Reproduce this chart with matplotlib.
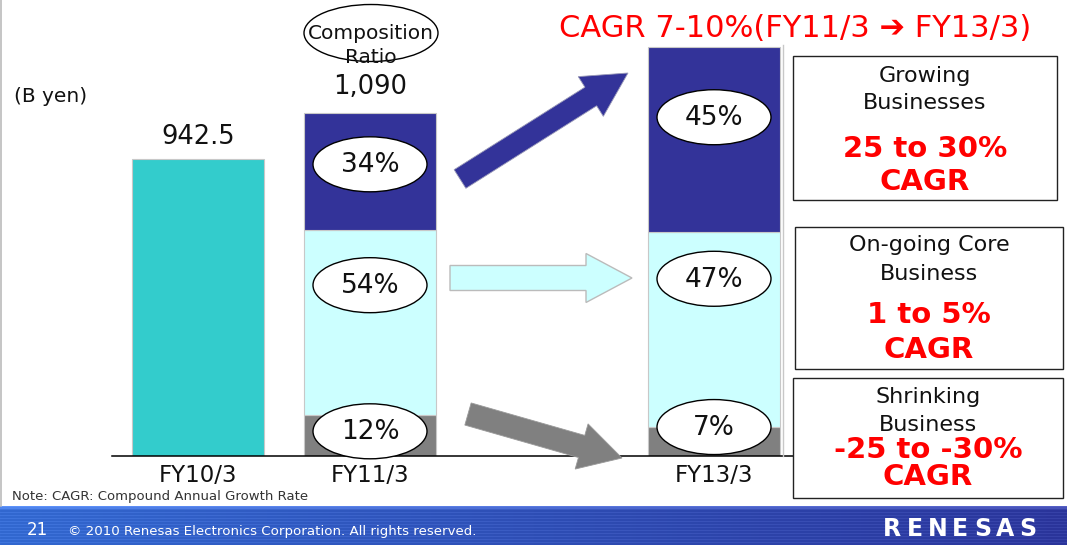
import matplotlib
matplotlib.use("Agg")
import matplotlib.pyplot as plt
import numpy as np
from matplotlib.patches import Ellipse, Rectangle, FancyArrow

# ---------------- data ----------------
categories = ["FY10/3", "FY11/3", "FY13/3"]
x_pos = [0, 1, 3]
total_fy10 = 942.5
# stacked segments (B yen), bottom to top, for FY11/3 and FY13/3
shrinking = [130.8, 92.0]
ongoing = [588.6, 620.0]
growing = [370.6, 588.0]
share_fy11 = ["12%", "54%", "34%"]
share_fy13 = ["7%", "47%", "45%"]
total_labels = ["942.5", "1,090"]

# ---------------- style ----------------
TEAL = "#33CCCC"
DARK = "#333399"
LIGHT = "#CCFFFF"
GREY = "#808080"
RED = "#FF0000"
EDGE = "#C8C8C8"

W, H = 1067, 545
fig = plt.figure(figsize=(W / 100, H / 100), dpi=100)
fig.patch.set_facecolor("white")

# bar axes placed in pixel geometry
ax = fig.add_axes([112 / W, (H - 456) / H, 688 / W, 416 / H])
ax.set_xlim(-0.5, 3.5)
ax.set_ylim(0, 1322)
ax.patch.set_alpha(0)
for s in ["top", "right", "left"]:
    ax.spines[s].set_visible(False)
ax.spines["bottom"].set_color("black")
ax.spines["bottom"].set_linewidth(1.1)
ax.set_yticks([])
ax.set_xticks(x_pos)
ax.set_xticklabels(categories, fontsize=16.5, color="#111111")
ax.tick_params(axis="x", length=0, pad=6)

bw = 0.773
ax.bar(x_pos[0], total_fy10, width=bw, color=TEAL, edgecolor=EDGE, linewidth=0.8)
sx = x_pos[1:]
ax.bar(sx, shrinking, width=bw, color=GREY, edgecolor=EDGE, linewidth=0.8)
b2 = np.array(shrinking)
ax.bar(sx, ongoing, width=bw, bottom=b2, color=LIGHT, edgecolor=EDGE, linewidth=0.8)
b3 = b2 + np.array(ongoing)
ax.bar(sx, growing, width=bw, bottom=b3, color=DARK, edgecolor=EDGE, linewidth=0.8)
tops = b3 + np.array(growing)

# total labels
ax.annotate(total_labels[0], (x_pos[0], total_fy10), xytext=(0, 11), textcoords="offset points",
            ha="center", va="baseline", fontsize=18.5, color="#111111")
ax.annotate(total_labels[1], (x_pos[1], tops[0]), xytext=(0, 13.5), textcoords="offset points",
            ha="center", va="baseline", fontsize=18.5, color="#111111")

# ---------------- overlay (pixel coordinates) ----------------
ov = fig.add_axes([0, 0, 1, 1], zorder=5)
ov.set_xlim(0, W)
ov.set_ylim(H, 0)
ov.axis("off")
ov.patch.set_alpha(0)


def to_px(x, y):
    d = ax.transData.transform((x, y))
    return d[0], H - d[1]


# share label ellipses (position as fraction within each segment)
fracs = [[0.6, 0.70, 0.56], [1.0, 0.76, 0.62]]
segs = [shrinking, ongoing, growing]
for i, (xp, labels) in enumerate(zip(sx, [share_fy11, share_fy13])):
    bottom = 0.0
    for j in range(3):
        h = segs[j][i]
        cx, cy = to_px(xp, bottom + fracs[i][j] * h)
        ov.add_patch(Ellipse((cx, cy), 114, 55, fc="white", ec="black", lw=1.0, zorder=6))
        ov.text(cx, cy + 1, labels[j], ha="center", va="center", fontsize=19, color="#111111", zorder=7)
        bottom += h

# composition ratio bubble
ov.add_patch(Ellipse((371, 33), 134, 57, fc="none", ec="black", lw=1.0))
ov.text(371, 39, "Composition", ha="center", va="baseline", fontsize=14.5, color="#111111")
ov.text(371, 63, "Ratio", ha="center", va="baseline", fontsize=14.5, color="#111111")

# unit
ov.text(14, 102, "(B yen)", ha="left", va="baseline", fontsize=14.5, color="#111111")

# title
ov.text(795, 37, "CAGR 7-10%(FY11/3 \u2794 FY13/3)", ha="center", va="baseline",
        fontsize=22, color=RED)

# arrows
ov.add_patch(FancyArrow(460, 179, 168, -106, width=22, head_width=47, head_length=44,
                        length_includes_head=True, fc=DARK, ec="#9a9ab8", lw=0.6))
ov.add_patch(FancyArrow(450, 278, 182, 0, width=25, head_width=49, head_length=46,
                        length_includes_head=True, fc=LIGHT, ec="#BBBBBB", lw=1.0))
ov.add_patch(FancyArrow(468, 414, 154, 44, width=23, head_width=47, head_length=42,
                        length_includes_head=True, fc=GREY, ec="#9a9a9a", lw=0.6))

# faint frame line right of chart and left slide border
ov.plot([783, 783], [45, 456], color="#C8C8C8", lw=1.0)
ov.plot([0.8, 0.8], [0, 506], color="#BBBBBB", lw=1.2)

# boxes
boxes = [
    ((793, 56, 264, 144), ["Growing", "Businesses"], [82, 109], ["25 to 30%", "CAGR"], [157, 190]),
    ((795, 227, 268, 142), ["On-going Core", "Business"], [251, 280], ["1 to 5%", "CAGR"], [323, 358]),
    ((793, 378, 270, 120), ["Shrinking", "Business"], [403, 431], ["-25 to -30%", "CAGR"], [458, 485]),
]
for (x0, y0, bwid, bh), blk, bly, red, rly in boxes:
    ov.add_patch(Rectangle((x0, y0), bwid, bh, fc="white", ec="#222222", lw=1.0))
    cx = x0 + bwid / 2
    for t, yy in zip(blk, bly):
        ov.text(cx, yy, t, ha="center", va="baseline", fontsize=16, color="#111111")
    for t, yy in zip(red, rly):
        ov.text(cx, yy, t, ha="center", va="baseline", fontsize=21, color=RED, fontweight="bold")

# note
ov.text(12, 500, "Note: CAGR: Compound Annual Growth Rate", ha="left", va="baseline",
        fontsize=9.5, color="#333333")

# footer band
fh = 39
left = np.array([0x32, 0x68, 0xD0]) / 255
right = np.array([0x2A, 0x34, 0x9A]) / 255
t = np.linspace(0, 1, W)[None, :, None]
grad = left * (1 - t) + right * t
grad = np.repeat(grad, fh, axis=0)
stripe = (np.arange(fh) % 3 == 0)[:, None, None] * 0.05
grad = np.clip(grad + stripe, 0, 1)
grad[:3] = np.clip(grad[:3] + 0.12, 0, 1)
ov.imshow(grad, extent=[0, W, H, H - fh], aspect="auto", zorder=1, interpolation="bilinear")
ov.set_xlim(0, W)
ov.set_ylim(H, 0)

ov.text(27, 535, "21", ha="left", va="baseline", fontsize=12, color="white", zorder=3)
ov.text(68, 535, "\u00a9 2010 Renesas Electronics Corporation. All rights reserved.",
        ha="left", va="baseline", fontsize=9.6, color="white", zorder=3)
logo = "RENESAS"
lx = np.linspace(892, 1028, len(logo))
for ch, xx in zip(logo, lx):
    ov.text(xx, 536, ch, ha="center", va="baseline", fontsize=17, fontweight="bold",
            color="white", zorder=3)

fig.savefig("out.png", dpi=100)
